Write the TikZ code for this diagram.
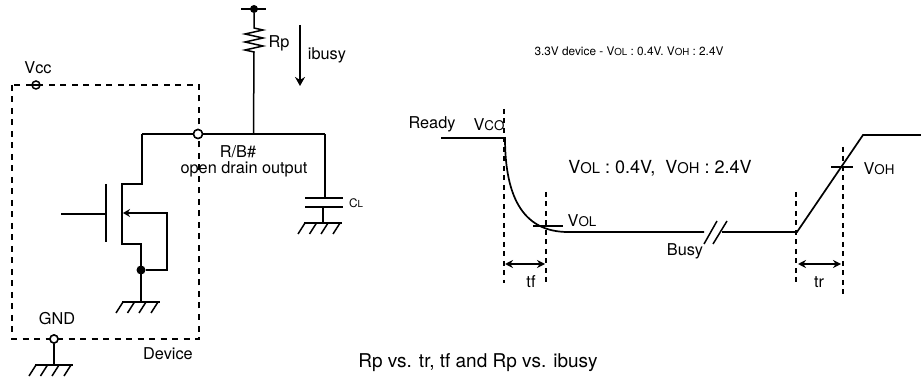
\documentclass[tikz,border=0pt]{standalone}
\usepackage{fontspec}
\setmainfont{TeX Gyre Heros}
\usetikzlibrary{arrows.meta,positioning,calc}

% V with a small index, as in VOL and VOH
\newcommand{\lvl}[2]{#1{\fontsize{0.82em}{1em}\selectfont #2}}

\begin{document}
\begin{tikzpicture}[
  x=1pt, y=-1pt,
  wire/.style={line width=1.7pt},
  thinwire/.style={line width=1.5pt},
  boxline/.style={line width=1.5pt, dash pattern=on 6pt off 5.5pt},
  guide/.style={line width=1.5pt, dash pattern=on 5pt off 4.5pt},
  pin/.style={circle, draw, line width=1.5pt, fill=white, minimum size=9pt, inner sep=0pt},
  joint/.style={circle, fill=black, minimum size=9pt, inner sep=0pt},
  lab/.style={inner sep=0pt, font=\fontsize{16.3}{18}\selectfont},
  smalllab/.style={inner sep=0pt, font=\fontsize{11.8}{14}\selectfont},
  biglab/.style={inner sep=0pt, font=\fontsize{18}{21}\selectfont},
  gnd/.pic={
    \draw[thinwire] (-19,0) -- (19,0);
    \foreach \hx in {-18,-6.5,5,17}
      \draw[thinwire] (\hx,0) -- ++(-7,11);
  }
]
  \useasboundingbox (0,0) rectangle (921,379);

  % Device outline
  \coordinate (boxnw) at (12,85);
  \coordinate (boxse) at (199,339);
  \draw[boxline] (boxnw) rectangle (boxse);
  \node[pin, minimum size=8pt] (vcc) at (36,85) {};
  \draw[thinwire] (vcc.west) -- (vcc.east);
  \node[lab] (vcclabel) at (38,68) {Vcc};
  \node[pin, minimum size=8pt] (gnd) at (54,339) {};
  \node[lab] (gndlabel) at (57,319) {GND};
  \node[lab] (device) at (168,354) {Device};
  \coordinate (gndbar) at (54,365);
  \draw[thinwire] (gnd) -- (gndbar);
  \node[pin, minimum size=8pt] at (gnd) {};
  \pic at (gndbar) {gnd};

  % Pull-up and rail
  \node[joint, minimum size=8pt] (vdd) at (254,9) {};
  \draw[thinwire] (241,9) -- (266,9);
  \coordinate (rtop) at (254,28);
  \coordinate (rbot) at (254,52);
  \coordinate (tap) at (253.5,134);
  \coordinate (railleft) at (142,134);
  \coordinate (railright) at (325,134);
  \node[pin] (rb) at (198,134) {};
  \draw[thinwire] (vdd) -- (rtop) -- ++(9,2) -- ++(-18,4) -- ++(18,4) -- ++(-18,4) -- ++(18,4) -- ++(-18,4) -- (rbot) -- (tap);
  \draw[wire] (railleft) -- (rb) -- (railright);
  \node[pin] at (rb) {};
  \node[lab] (rp) at (279,43) {Rp};
  \node[lab] (ibusy) at (327,55) {ibusy};
  \coordinate (itop) at (300,25);
  \coordinate (ibot) at (300,86);
  \draw[-{Stealth[length=9pt,width=10pt]}, thinwire] (itop) -- (ibot);
  \node[lab] (rblabel) at (238,152) {R/B\#};
  \node[lab] (odlabel) at (244,169) {open drain output};

  % Load capacitor
  \coordinate (capa) at (325,198);
  \coordinate (capb) at (323,207);
  \coordinate (capgnd) at (323,223);
  \draw[thinwire] (railright) -- (capa);
  \draw[wire] (305,198) -- (343,198);
  \draw[wire] (305,207) -- (343,207);
  \draw[thinwire] (capb) -- (capgnd);
  \pic at (capgnd) {gnd};
  \node[smalllab, anchor=west] (cl) at (349,203) {\lvl{C}{L}};

  % Output transistor
  \coordinate (drain) at (142,184);
  \coordinate (chtop) at (122,184);
  \coordinate (chbot) at (122,244);
  \coordinate (source) at (141,244);
  \coordinate (srcgnd) at (141,302);
  \coordinate (bulk) at (167,213);
  \coordinate (bulkin) at (123,213);
  \coordinate (bulkbot) at (167,270);
  \coordinate (gatein) at (61,214);
  \coordinate (gate) at (106,214);
  \node[joint] (srcdot) at (141,270) {};
  \draw[wire] (railleft) -- (drain) -- (chtop) -- (chbot) -- (source) -- (srcgnd);
  \draw[wire] (106,184) -- (106,242);
  \draw[thinwire] (gatein) -- (gate);
  \draw[-{Stealth[length=7pt,width=8pt]}, wire] (srcdot) -- (bulkbot) -- (bulk) -- (bulkin);
  \pic at (srcgnd) {gnd};

  % Waveform
  \coordinate (w0) at (441,138);
  \coordinate (w1) at (505,138);
  \coordinate (w2) at (568,232);
  \coordinate (w3) at (704,232);
  \coordinate (w4) at (722,232);
  \coordinate (w5) at (797,232);
  \coordinate (w6) at (863,135);
  \coordinate (w7) at (921,135);
  \draw[wire] (w0) -- (w1) .. controls (505,200) and (525,232) .. (w2) -- (w3);
  \draw[wire] (w4) -- (w5) -- (w6) -- (w7);
  \draw[thinwire] (704,244) -- (717,221);
  \draw[thinwire] (713,244) -- (727,221);

  % Guide lines and ticks
  \draw[guide] (504,109) -- (504,283);
  \draw[guide] (546,192) -- (546,283);
  \draw[guide] (796,192) -- (796,284);
  \draw[guide] (843,147) -- (843,294);
  \draw[thinwire] (533,226) -- (563,226);
  \draw[thinwire] (831,167) -- (853,167);
  \coordinate (tfa) at (505,264);
  \coordinate (tfb) at (545,264);
  \coordinate (tra) at (798,264);
  \coordinate (trb) at (841,264);
  \draw[{Stealth[length=8pt,width=8pt]}-{Stealth[length=8pt,width=8pt]}, thinwire] (tfa) -- (tfb);
  \draw[{Stealth[length=8pt,width=8pt]}-{Stealth[length=8pt,width=8pt]}, thinwire] (tra) -- (trb);

  % Waveform labels
  \node[smalllab] (title) at (629,51) {3.3V device - \lvl{V}{OL} : 0.4V. \lvl{V}{OH} : 2.4V};
  \node[lab] (ready) at (432,124) {Ready};
  \node[lab] (vco) at (489,125) {\lvl{V}{CO}};
  \node[biglab] (levels) at (660,168) {\lvl{V}{OL} : 0.4V,\ \ \lvl{V}{OH} : 2.4V};
  \node[lab] (vol) at (582,221) {\lvl{V}{OL}};
  \node[lab] (voh) at (879,169) {\lvl{V}{OH}};
  \node[lab] (busy) at (685,251) {Busy};
  \node[lab] (tf) at (531,282) {tf};
  \node[lab] (tr) at (819,282) {tr};
  \node[biglab, font=\fontsize{19}{21}\selectfont] (caption) at (478,363) {Rp vs. tr, tf and Rp vs. ibusy};
\end{tikzpicture}
\end{document}
